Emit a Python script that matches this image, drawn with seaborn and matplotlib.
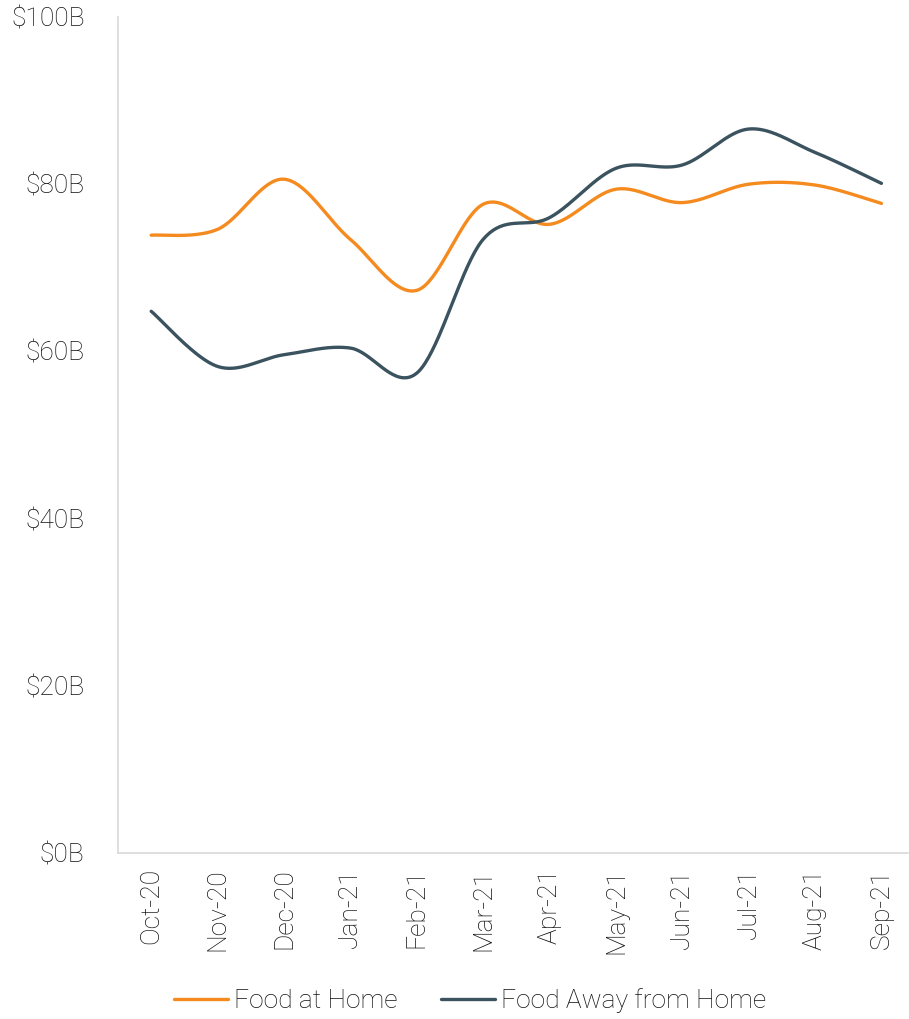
import numpy as np
import pandas as pd
import matplotlib
matplotlib.use("Agg")
import matplotlib.pyplot as plt
import seaborn as sns
from matplotlib.lines import Line2D

months = ["Oct-20", "Nov-20", "Dec-20", "Jan-21", "Feb-21", "Mar-21",
          "Apr-21", "May-21", "Jun-21", "Jul-21", "Aug-21", "Sep-21"]
food_at_home = [73.9, 74.6, 80.6, 73.4, 67.3, 77.6, 75.2, 79.4, 77.8, 80.0, 79.9, 77.7]
food_away = [64.8, 58.2, 59.6, 60.4, 57.4, 73.4, 76.0, 81.9, 82.3, 86.6, 83.8, 80.1]
yticks = [0, 20, 40, 60, 80, 100]
ytick_labels = ["$0B", "$20B", "$40B", "$60B", "$80B", "$100B"]

series_names = ["Food at Home", "Food Away from Home"]
colors = ["#F58A1F", "#3B525F"]

sns.set_theme(style="white")
plt.rcParams["font.family"] = ["Roboto", "DejaVu Sans"]
plt.rcParams["font.weight"] = "light"

FS = 19
TXT = "#111111"


def smooth(xs, ys, n=40):
    """Excel-like smoothed line: cubic Bezier with Catmull-Rom tangents."""
    xs = np.asarray(xs, float)
    ys = np.asarray(ys, float)
    px = np.concatenate([[xs[0]], xs, [xs[-1]]])
    py = np.concatenate([[ys[0]], ys, [ys[-1]]])
    ox, oy = [], []
    t = np.linspace(0, 1, n)
    for i in range(1, len(px) - 2):
        p0 = np.array([px[i - 1], py[i - 1]])
        p1 = np.array([px[i], py[i]])
        p2 = np.array([px[i + 1], py[i + 1]])
        p3 = np.array([px[i + 2], py[i + 2]])
        c1 = p1 + (p2 - p0) / 6.0
        c2 = p2 - (p3 - p1) / 6.0
        b = (np.outer((1 - t) ** 3, p1) + np.outer(3 * (1 - t) ** 2 * t, c1)
             + np.outer(3 * (1 - t) * t ** 2, c2) + np.outer(t ** 3, p2))
        ox.extend(b[:, 0])
        oy.extend(b[:, 1])
    return np.array(ox), np.array(oy)


fig = plt.figure(figsize=(9.09, 10.19), dpi=100)
ax = fig.add_axes([118 / 909, 1 - 853 / 1019, (908 - 118) / 909, (853 - 17) / 1019])

xpos = np.arange(len(months))
frames = []
for name, vals in zip(series_names, [food_at_home, food_away]):
    sx, sy = smooth(xpos, vals)
    frames.append(pd.DataFrame({"x": sx, "y": sy, "series": name}))
df = pd.concat(frames, ignore_index=True)

sns.lineplot(data=df, x="x", y="y", hue="series", palette=colors, hue_order=series_names,
             sort=False, estimator=None, linewidth=2.4, ax=ax, legend=False)

ax.set_xlim(-0.5, 11.4)
ax.set_ylim(0, 100)
ax.set_yticks(yticks)
ax.set_yticklabels(ytick_labels, fontsize=FS, color=TXT, fontweight="light")
ax.set_xticks(xpos)
ax.set_xticklabels(months, rotation=90, fontsize=FS, color=TXT, fontweight="light")
ax.tick_params(axis="x", length=0, pad=11)
ax.tick_params(axis="y", length=0, pad=24)
ax.set_xlabel("")
ax.set_ylabel("")
for s in ["top", "right"]:
    ax.spines[s].set_visible(False)
for s in ["left", "bottom"]:
    ax.spines[s].set_color("#D9D9D9")
    ax.spines[s].set_linewidth(1.2)
ax.grid(False)

handles = [Line2D([0], [0], color=c, lw=2.4) for c in colors]
leg = fig.legend(handles, series_names, loc="center", bbox_to_anchor=(470 / 909, 1 - 1001 / 1019),
                 ncol=2, frameon=False, handlelength=2.05, handletextpad=0.2,
                 columnspacing=1.67, prop={"size": FS, "weight": "light"})
for t in leg.get_texts():
    t.set_color(TXT)

fig.savefig("out.png", dpi=100)
